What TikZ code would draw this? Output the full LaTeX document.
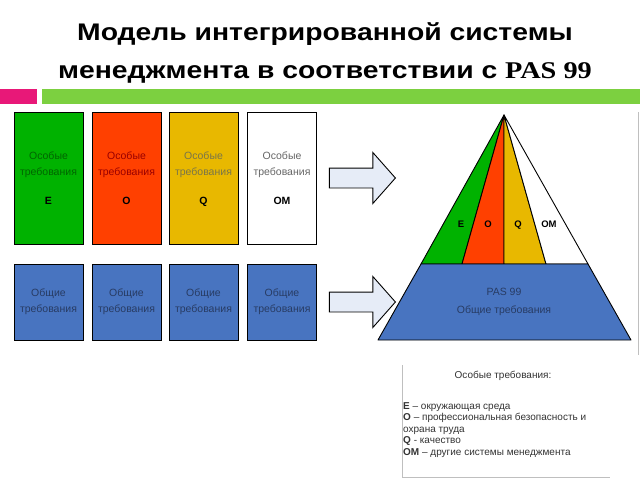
\documentclass[tikz,border=0pt]{standalone}
\usepackage{fontspec}
\setmainfont{Liberation Sans}
\newfontfamily\pasfont{Liberation Serif}
\usetikzlibrary{shapes.arrows}

\definecolor{grE}{RGB}{0,178,0}
\definecolor{rdO}{RGB}{255,64,0}
\definecolor{ylQ}{RGB}{232,184,0}
\definecolor{blB}{RGB}{72,116,192}
\definecolor{pinkbar}{RGB}{232,24,120}
\definecolor{greenbar}{RGB}{124,208,64}
\definecolor{arrowfill}{RGB}{230,236,247}
\definecolor{blText}{RGB}{40,60,100}

\begin{document}
\begin{tikzpicture}[x=1pt, y=-1pt]
            \tikzstyle{spec}=[draw, line width=0.9pt, inner sep=0pt, minimum width=69pt, minimum height=132pt, align=center, font=\fontsize{10.5}{16}\selectfont]
            \tikzstyle{gen}=[spec, fill=blB, minimum height=76pt, text=blText]
            \tikzstyle{bigarrow}=[single arrow, draw, line width=0.9pt, fill=arrowfill, minimum height=66pt, inner xsep=0pt, inner ysep=9.5pt, single arrow head extend=15.5pt, single arrow tip angle=97]
            \tikzstyle{slice}=[draw, line width=0.9pt, line join=round]
            \tikzstyle{letter}=[anchor=base, font=\fontsize{9.5}{9.5}\selectfont\bfseries]
            \tikzstyle{heading}=[anchor=base, xscale=1.18, transform shape, font=\fontsize{24}{24}\selectfont\bfseries]

                \fill[white] (0,0) rectangle (640,480);
                \useasboundingbox (0,0) rectangle (640,480);

                % Заголовок
                \node[heading] (title1) at (325,40) {Модель интегрированной системы};
                \node[heading] (title2) at (325,78) {менеджмента в соответствии с {\pasfont PAS 99}};
                \fill[pinkbar] (0,89) rectangle (37,104);
                \fill[greenbar] (42,89) rectangle (640,104);

                % Особые требования
                \node[spec, fill=grE, text=green!40!black] (sE) at (48.5,178) {Особые\\требования\\[13pt]{\color{black}\textbf{E}}};
                \node[spec, fill=rdO, text=red!60!black] (sO) at (126.5,178) {Особые\\требования\\[13pt]{\color{black}\textbf{O}}};
                \node[spec, fill=ylQ, text=yellow!40!black] (sQ) at (203.5,178) {Особые\\требования\\[13pt]{\color{black}\raisebox{0pt}[\height][0pt]{\textbf{Q}}}};
                \node[spec, fill=white, text=black!60] (sOM) at (282,178) {Особые\\требования\\[13pt]{\color{black}\textbf{OM}}};

                % Общие требования
                \node[gen] (gE) at (48.5,302) {Общие\\требования};
                \node[gen] (gO) at (126.5,302) {Общие\\требования};
                \node[gen] (gQ) at (203.5,302) {Общие\\требования};
                \node[gen] (gOM) at (282,302) {Общие\\требования};

                % Стрелки
                \node[bigarrow] (arrTop) at (358,178) {};
                \node[bigarrow] (arrBot) at (358,302) {};

                % Пирамида
                \coordinate (apex) at (504,115);
                \coordinate (b0) at (421,264);
                \coordinate (b1) at (462,264);
                \coordinate (b2) at (504,264);
                \coordinate (b3) at (546,264);
                \coordinate (b4) at (588,264);
                \coordinate (f0) at (378,340);
                \coordinate (f1) at (631,340);
                \filldraw[slice, fill=grE] (apex) -- (b0) -- (b1) -- cycle;
                \filldraw[slice, fill=rdO] (apex) -- (b1) -- (b2) -- cycle;
                \filldraw[slice, fill=ylQ] (apex) -- (b2) -- (b3) -- cycle;
                \filldraw[slice, fill=white] (apex) -- (b3) -- (b4) -- cycle;
                \filldraw[slice, fill=blB] (b0) -- (b4) -- (f1) -- (f0) -- cycle;

                \node[letter] (lE) at (461,227) {E};
                \node[letter] (lO) at (488,227) {O};
                \node[letter] (lQ) at (518,227) {Q};
                \node[letter] (lOM) at (549,227) {OM};
                \node[font=\fontsize{10.5}{18}\selectfont, text=blText, align=center] (base) at (504,302) {PAS 99\\Общие требования};

                % Пояснение
                \draw[black!25] (638,112) -- (638,355);
                \draw[black!25] (402,365) -- (402,477) -- (610,477);
                \node[font=\fontsize{10}{11.5}\selectfont, text=black!80] (legHead) at (503,376) {Особые требования:};
                \node[font=\fontsize{10}{11.5}\selectfont, text=black!80, align=left, anchor=north west, inner sep=0pt] (legBody) at (403,402) {\textbf{E} – окружающая среда\\\textbf{O} – профессиональная безопасность и\\охрана труда\\\textbf{Q} - качество\\\textbf{OM} – другие системы менеджмента};
        \end{tikzpicture}
\end{document}
